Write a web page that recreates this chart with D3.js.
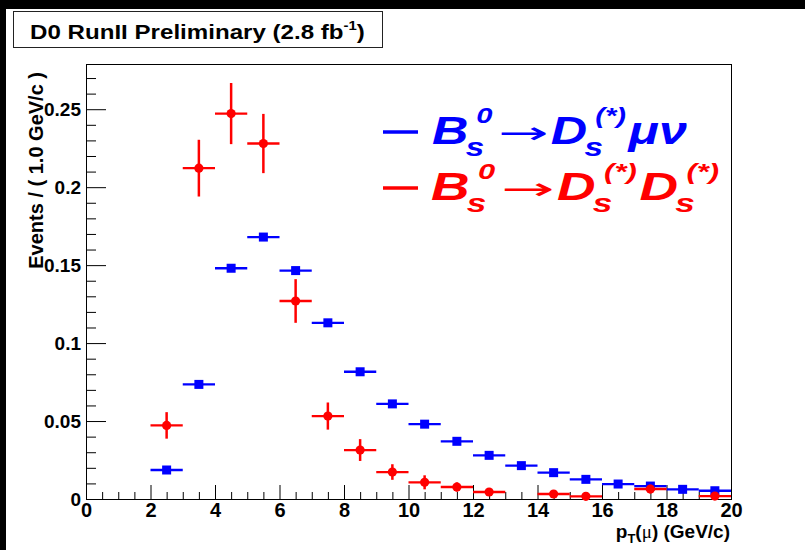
<!DOCTYPE html>
<html>
<head>
<meta charset="utf-8">
<script src="https://cdn.jsdelivr.net/npm/d3@7"></script>
<style>
  body { margin: 0; background: #fff; }
  svg { display: block; font-family: "Liberation Sans", Arial, sans-serif; }
</style>
</head>
<body>
<svg id="graf" width="805" height="550"></svg>
<script>
// datos (centros de bin en GeV/c)
const centrosBin = [2.5, 3.5, 4.5, 5.5, 6.5, 7.5, 8.5, 9.5, 10.5, 11.5, 12.5, 13.5, 14.5, 15.5, 16.5, 17.5, 18.5, 19.5];
// Bs0 -> Ds(*) mu nu (azul)
const valoresMuNu = [0.0186, 0.0735, 0.148, 0.168, 0.1465, 0.113, 0.0816, 0.061, 0.048, 0.037, 0.028, 0.0214, 0.0169, 0.0126, 0.0096, 0.0083, 0.0062, 0.0053];
const erroresMuNu = [0.0012, 0.0015, 0.0015, 0.0015, 0.0015, 0.0015, 0.0012, 0.0012, 0.0012, 0.001, 0.001, 0.001, 0.001, 0.001, 0.001, 0.001, 0.001, 0.001];
// Bs0 -> Ds(*) Ds(*) (rojo), null = bin vacío
const valoresDsDs = [0.0472, 0.2122, 0.2472, 0.228, 0.127, 0.0532, 0.0314, 0.0173, 0.0107, 0.0077, 0.0045, null, 0.0032, 0.0017, null, 0.0064, null, 0.0019];
const erroresDsDs = [0.0085, 0.0182, 0.0196, 0.019, 0.014, 0.0087, 0.007, 0.005, 0.0045, 0.003, 0.002, null, 0.0018, 0.0013, null, 0.0028, null, 0.0013];
const anchoBin = 1.0;

const ticksX = [0, 2, 4, 6, 8, 10, 12, 14, 16, 18, 20];
const ticksY = [0, 0.05, 0.1, 0.15, 0.2, 0.25];
const ticksXmenores = d3.range(0, 20.01, 0.5).filter(v => v % 2 !== 0);
const ticksYmenores = d3.range(0, 0.2795, 0.01).map(v => +v.toFixed(2)).filter(v => Math.round(v * 100) % 5 !== 0);

const azul = "#0000ff", rojo = "#ff0000";

const svg = d3.select("#graf");

// marco negro del lienzo (arriba e izquierda)
svg.append("rect").attr("x", 0).attr("y", 0).attr("width", 805).attr("height", 9).attr("fill", "#000");
svg.append("rect").attr("x", 0).attr("y", 0).attr("width", 6).attr("height", 550).attr("fill", "#000");

// escalas
const margins = { left: 86, top: 64, right: 74, bottom: 51 };
const x = d3.scaleLinear().domain([0, 20]).range([margins.left, 805 - margins.right]);
const y = d3.scaleLinear().domain([0, 0.279]).range([550 - margins.bottom, margins.top]);

// ejes
const fmtY = d => d === 0 ? "0" : String(+d.toFixed(2));
const ejeY = svg.append("g").attr("transform", `translate(${margins.left},0)`);
ejeY.call(d3.axisLeft(y).tickValues(ticksY).tickSizeInner(-20).tickSizeOuter(0).tickPadding(5).tickFormat(fmtY));
const ejeYmenor = svg.append("g").attr("transform", `translate(${margins.left},0)`);
ejeYmenor.call(d3.axisLeft(y).tickValues(ticksYmenores).tickSizeInner(-10).tickSizeOuter(0).tickFormat(""));

const ejeX = svg.append("g").attr("transform", `translate(0,${y(0)})`);
ejeX.call(d3.axisBottom(x).tickValues(ticksX).tickSizeInner(-14).tickSizeOuter(0).tickPadding(4));
const ejeXmenor = svg.append("g").attr("transform", `translate(0,${y(0)})`);
ejeXmenor.call(d3.axisBottom(x).tickValues(ticksXmenores).tickSizeInner(-7).tickSizeOuter(0).tickFormat(""));

[ejeY, ejeYmenor, ejeX, ejeXmenor].forEach(g => {
  g.select(".domain").remove();
  g.selectAll("line").attr("stroke", "#000").attr("stroke-width", 1);
  g.attr("font-family", null).attr("font-size", null);
  g.selectAll("text").attr("fill", "#000").attr("font-weight", "bold")
    .attr("font-family", "'Liberation Sans', Arial, sans-serif");
});
ejeY.selectAll("text").attr("font-size", 19);
ejeX.selectAll("text").attr("font-size", 20);

// marco de la gráfica
svg.append("rect")
  .attr("x", x(0) + 0.5).attr("y", y(0.279) + 0.5)
  .attr("width", x(20) - x(0)).attr("height", y(0) - y(0.279))
  .attr("fill", "none").attr("stroke", "#000").attr("stroke-width", 1);

// puntos con barras de error
const dibujarSerie = (valores, errores, color, forma) => {
  const datos = centrosBin.map((c, i) => ({ c, v: valores[i], e: errores[i] })).filter(d => d.v !== null);
  const g = svg.append("g");
  g.selectAll("line.h").data(datos).enter().append("line")
    .attr("x1", d => x(d.c - anchoBin / 2)).attr("x2", d => x(d.c + anchoBin / 2))
    .attr("y1", d => y(d.v)).attr("y2", d => y(d.v))
    .attr("stroke", color).attr("stroke-width", 2.3);
  g.selectAll("line.v").data(datos).enter().append("line")
    .attr("x1", d => x(d.c)).attr("x2", d => x(d.c))
    .attr("y1", d => y(d.v - d.e)).attr("y2", d => y(d.v + d.e))
    .attr("stroke", color).attr("stroke-width", 2.5);
  if (forma === "cuadrado") {
    g.selectAll("rect").data(datos).enter().append("rect")
      .attr("x", d => x(d.c) - 4.5).attr("y", d => y(d.v) - 4.5)
      .attr("width", 9).attr("height", 9).attr("fill", color);
  } else {
    g.selectAll("circle").data(datos).enter().append("circle")
      .attr("cx", d => x(d.c)).attr("cy", d => y(d.v)).attr("r", 4.6).attr("fill", color);
  }
};
dibujarSerie(valoresMuNu, erroresMuNu, azul, "cuadrado");
dibujarSerie(valoresDsDs, erroresDsDs, rojo, "circulo");

// títulos de los ejes
svg.append("text")
  .attr("transform", "translate(43,72) rotate(-90)")
  .attr("text-anchor", "end").attr("font-size", 20).attr("font-weight", "bold")
  .text("Events / ( 1.0 GeV/c )");

const tituloX = svg.append("text")
  .attr("x", 730).attr("y", 538).attr("text-anchor", "end")
  .attr("font-size", 19).attr("font-weight", "bold");
tituloX.append("tspan").text("p");
tituloX.append("tspan").attr("font-size", 13).attr("dy", 5).text("T");
tituloX.append("tspan").attr("dy", -5).text("(");
tituloX.append("tspan").attr("font-family", "'Liberation Serif', serif").attr("font-weight", "normal").text("μ");
tituloX.append("tspan").text(") (GeV/c)");

// caja del título
svg.append("rect").attr("x", 13.5).attr("y", 11.5).attr("width", 369).attr("height", 36)
  .attr("fill", "#fff").attr("stroke", "#222").attr("stroke-width", 1);
const gTitulo = svg.append("g");
const titulo = gTitulo.append("text").attr("x", 0).attr("y", 0)
  .attr("font-size", 21).attr("font-weight", "bold");
titulo.append("tspan").text("D0 RunII Preliminary (2.8 fb");
titulo.append("tspan").attr("font-size", 13).attr("dy", -9).text("-1");
titulo.append("tspan").attr("dy", 9).text(")");
const anchoTitulo = titulo.node().getComputedTextLength();
gTitulo.attr("transform", `translate(30,38.5) scale(${(365 - 30) / anchoTitulo},1)`);

// leyenda
const piezasLinea1 = [
  { t: "B" }, { t: "s", sub: true }, { t: "0", sup: true },
  { t: "→", flecha: true },
  { t: "D" }, { t: "s", sub: true }, { t: "(*)", sup: true },
  { t: "μν" }
];
const piezasLinea2 = [
  { t: "B" }, { t: "s", sub: true }, { t: "0", sup: true },
  { t: "→", flecha: true },
  { t: "D" }, { t: "s", sub: true }, { t: "(*)", sup: true },
  { t: "D" }, { t: "s", sub: true }, { t: "(*)", sup: true }
];

const dibujarLeyenda = (piezas, color, yLinea, xIni, xFin) => {
  svg.append("line").attr("x1", 383).attr("x2", 418).attr("y1", yLinea - 12).attr("y2", yLinea - 12)
    .attr("stroke", color).attr("stroke-width", 3.5);
  const g = svg.append("g");
  let cx = 0, xSub = 0, wSub = 0;
  piezas.forEach(p => {
    const t = g.append("text").attr("fill", color).attr("font-weight", "bold").attr("font-style", "italic").text(p.t);
    if (p.flecha) {
      t.attr("font-family", "'DejaVu Sans', sans-serif").attr("font-weight", "normal").attr("font-style", "normal")
        .attr("font-size", 30).attr("x", cx + 2).attr("y", -1)
        .attr("textLength", 38).attr("lengthAdjust", "spacingAndGlyphs");
      cx += 42;
    } else if (p.sub) {
      t.attr("font-size", 25).attr("x", cx - 2).attr("y", 12);
      xSub = cx; wSub = t.node().getComputedTextLength();
      cx += wSub;
    } else if (p.sup) {
      t.attr("font-size", 22).attr("x", xSub + 6).attr("y", -21);
      const w = t.node().getComputedTextLength();
      cx = Math.max(xSub + wSub, xSub + 6 + w) + 2;
    } else {
      t.attr("font-size", 38).attr("x", cx).attr("y", 0);
      cx += t.node().getComputedTextLength();
    }
  });
  g.attr("transform", `translate(${xIni},${yLinea}) scale(${(xFin - xIni) / cx},1)`);
};
dibujarLeyenda(piezasLinea1, azul, 144, 432, 687);
dibujarLeyenda(piezasLinea2, rojo, 200, 431, 722);
</script>
</body>
</html>
